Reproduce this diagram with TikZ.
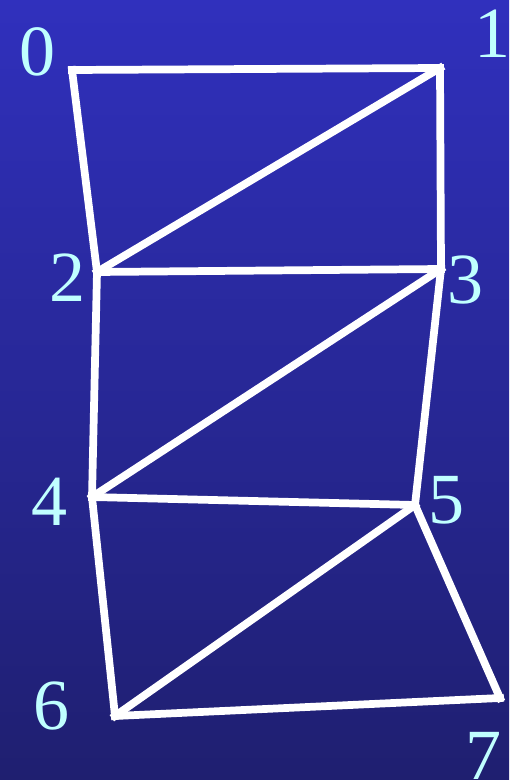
\documentclass[tikz,border=0pt]{standalone}
\usepackage{fontspec}
\setmainfont{Liberation Serif}
\definecolor{bgtop}{RGB}{48,48,189}
\definecolor{bgbot}{RGB}{31,31,112}
\definecolor{lbl}{RGB}{192,255,255}
\begin{document}
\begin{tikzpicture}[x=0.02cm,y=-0.02cm]
			\shade[top color=bgtop, bottom color=bgbot](0,0) rectangle (509,780);
			\coordinate (v0) at (72,70);
			\coordinate (v1) at (440,68);
			\coordinate (v2) at (97,272);
			\coordinate (v3) at (441,269);
			\coordinate (v4) at (92,497);
			\coordinate (v5) at (415,505);
			\coordinate (v6) at (115,716);
			\coordinate (v7) at (500,698);
			\begin{scope}[color=white, line width=4.4pt, line cap=rect, line join=miter]
			\draw(v0) -- (v1);
			\draw(v0) -- (v2);
			\draw(v1) -- (v3);
			\draw(v1) -- (v2);
			\draw(v2) -- (v3);
			\draw(v3) -- (v4);
			\draw(v2) -- (v4);
			\draw(v3) -- (v5);
			\draw(v4) -- (v5);
			\draw(v4) -- (v6);
			\draw(v5) -- (v6);
			\draw(v5) -- (v7);
			\draw(v6) -- (v7);
			\end{scope}
			\begin{scope}[every node/.style={text=lbl, font=\fontsize{41}{41}\selectfont, inner sep=0pt}]
			\node (l0) at (38,52) {0};
			\node (l1) at (493,34) {1};
			\node (l2) at (68,278) {2};
			\node (l3) at (466,280) {3};
			\node (l4) at (50,502) {4};
			\node (l5) at (447,500) {5};
			\node (l6) at (52,706) {6};
			\node (l7) at (483,756) {7};
			\end{scope}
		\end{tikzpicture}
\end{document}
